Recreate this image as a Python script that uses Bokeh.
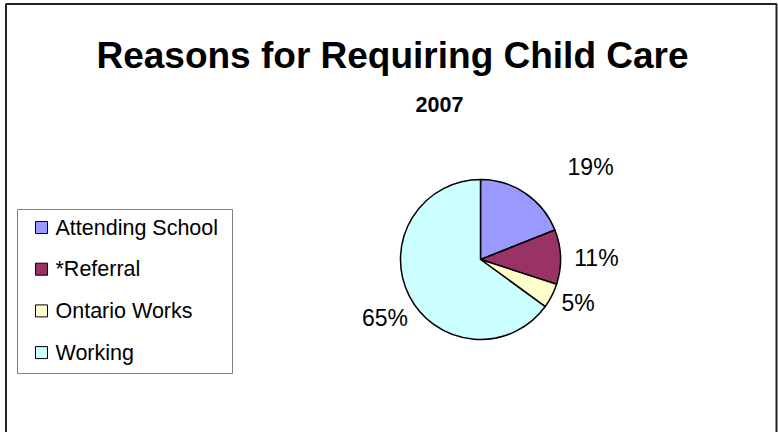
import math
from bokeh.plotting import figure
from bokeh.models import Range1d, ColumnDataSource
from bokeh.core.properties import value
from bokeh.embed import file_html
from bokeh.resources import INLINE

# ---- data ----
title_text = "Reasons for Requiring Child Care"
subtitle_text = "2007"
categories = ["Attending School", "*Referral", "Ontario Works", "Working"]
percents = [19, 11, 5, 65]
colors = ["#9999FF", "#993366", "#FFFFCC", "#CCFFFF"]

# ---- layout (page pixel coordinates; figure sits at page (0, 0)) ----
W, H = 778, 432
def Y(py):
    return 432 - py

CX, CY, R = 480, 259, 80
LABEL_R = 114
LABEL_NUDGE = [(46, 2), (2, 2), (-4, -8), (6, 7)]   # page-pixel nudges

p = figure(width=W, height=H, x_range=Range1d(0, 778), y_range=Range1d(0, 432),
           output_backend="svg", toolbar_location=None, min_border=0)
p.axis.visible = False
p.grid.visible = False
p.outline_line_color = None
p.background_fill_color = "white"
p.border_fill_color = "white"

# chart border
p.quad(left=[5.5], right=[776], top=[Y(3.5)], bottom=[Y(445)], fill_color=None,
       line_color="#222222", line_width=2)

# pie
total = sum(percents)
starts, ends, mids = [], [], []
cum = 0
for v in percents:
    a0 = math.pi / 2 - 2 * math.pi * cum / total
    a1 = math.pi / 2 - 2 * math.pi * (cum + v) / total
    starts.append(a0)
    ends.append(a1)
    mids.append((a0 + a1) / 2)
    cum += v
pie_src = ColumnDataSource(dict(start=starts, end=ends, color=colors))
p.wedge(x=CX, y=Y(CY), radius=R, start_angle="start", end_angle="end",
        direction="clock", fill_color="color", line_color="black",
        line_width=1.5, source=pie_src)

lab_src = ColumnDataSource(dict(
    x=[CX + LABEL_R * math.cos(m) + n[0] for m, n in zip(mids, LABEL_NUDGE)],
    y=[Y(CY) + LABEL_R * math.sin(m) - n[1] for m, n in zip(mids, LABEL_NUDGE)],
    t=[f"{v}%" for v in percents]))
p.text(x="x", y="y", text="t", source=lab_src, text_font=value("Liberation Sans"),
       text_font_size="23px", text_align="center", text_baseline="middle",
       text_color="black")

# title
p.text(x=[392], y=[Y(55)], text=[title_text], text_font=value("Liberation Sans"),
       text_font_style="bold", text_font_size="37px", text_align="center",
       text_baseline="middle", text_color="black")
p.text(x=[439], y=[Y(104)], text=[subtitle_text], text_font=value("Liberation Sans"),
       text_font_style="bold", text_font_size="21.5px", text_align="center",
       text_baseline="middle", text_color="black")

# legend
p.quad(left=[17], right=[232], top=[Y(209)], bottom=[Y(373)], fill_color="white",
       line_color="#808080", line_width=1)
rows = [Y(227 + i * 41.7) for i in range(len(categories))]
leg_src = ColumnDataSource(dict(y=rows, color=colors, name=categories))
p.rect(x=41, y="y", width=12, height=12, fill_color="color", line_color="black",
       line_width=1, source=leg_src)
p.text(x=55, y="y", text="name", source=leg_src, text_font=value("Liberation Sans"),
       text_font_size="21.5px", text_align="left", text_baseline="middle",
       text_color="black")

open("out.html", "w").write(file_html(p, INLINE))
